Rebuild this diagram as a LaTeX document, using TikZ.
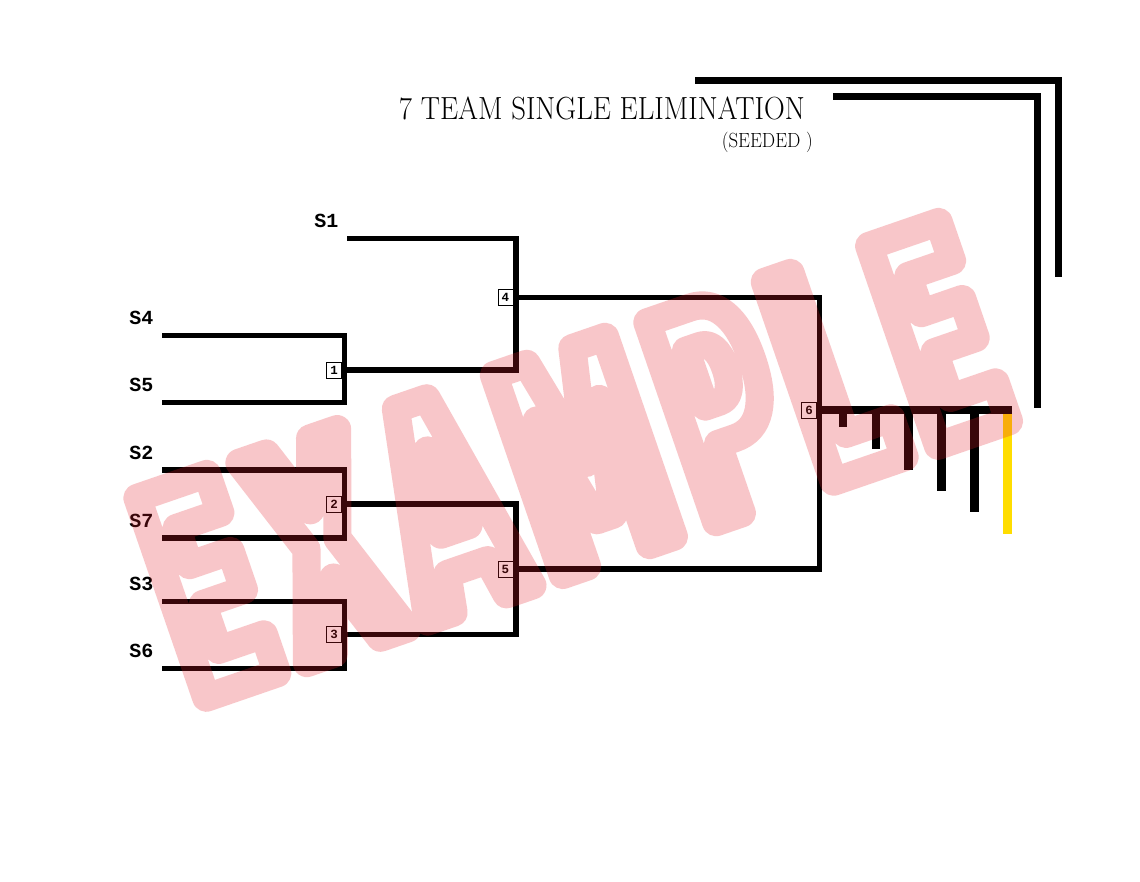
\documentclass[tikz,border=0pt]{standalone}
\usepackage{fontspec}
\usepackage{graphicx}
\usetikzlibrary{positioning}

\newfontfamily\seedfont{Liberation Mono}
\newfontfamily\stampfont{DejaVu Sans}[FakeStretch=0.5]

\definecolor{stampred}{RGB}{230,30,40}
\definecolor{finalgold}{RGB}{255,221,0}

\tikzset{
  bracket/.style={line width=5.5pt, line join=miter},
  frame/.style={line width=7pt, line join=miter},
  seed/.style={font=\seedfont\bfseries\fontsize{20}{20}\selectfont, inner sep=0pt},
  matchbox/.style={draw, line width=0.8pt, fill=white, minimum width=15pt,
    minimum height=16pt, inner sep=0pt,
    font=\seedfont\bfseries\fontsize{12.5}{12.5}\selectfont},
  bar/.style={line width=8.5pt},
}

\begin{document}
\begin{tikzpicture}[x=1pt, y=-1pt]
    \fill[white] (0,0) rectangle (1140,881);
    \useasboundingbox (0,0) rectangle (1140,881);

    % title
    \node[anchor=base east, inner sep=0pt] (title) at (805,119)
      {\scalebox{0.9}[1]{\fontsize{32}{32}\selectfont 7 TEAM SINGLE ELIMINATION}};
    \node[anchor=base east, inner sep=0pt] (sub) at (813,147)
      {\scalebox{0.92}[1]{\fontsize{20.5}{20.5}\selectfont (SEEDED )}};

    % corner frame
    \coordinate (fa) at (695,80);
    \coordinate (fb) at (1058.3,276.7);
    \coordinate (fc) at (833.3,96);
    \coordinate (fd) at (1037.8,408);
    \draw [frame] (fa) -| (fb);
    \draw [frame] (fc) -| (fd);

    % seed lines start here
    \coordinate (t1) at (347,238.7);
    \coordinate (t4) at (162,335.3);
    \coordinate (t5) at (162,402.5);
    \coordinate (t2) at (162,470);
    \coordinate (t7) at (162,538);
    \coordinate (t3) at (162,601.5);
    \coordinate (t6) at (162,668.5);

    % match points
    \coordinate (j1) at (344.7,370);
    \coordinate (j2) at (344.7,504);
    \coordinate (j3) at (344.7,634.5);
    \coordinate (j4) at (516,297.5);
    \coordinate (j5) at (516,569);
    \coordinate (j6) at (819.7,410);
    \coordinate (fin) at (1012,410);

    \draw [bracket] (t4) -| (j1) |- (t5);
    \draw [bracket] (t2) -| (j2) |- (t7);
    \draw [bracket] (t3) -| (j3) |- (t6);
    \draw [bracket] (t1) -| (j4) |- (j1);
    \draw [bracket] (j2) -| (j5) |- (j3);
    \draw [bracket] (j4) -| (j6) |- (j5);

    % champion line with bars
    \foreach \bx/\by in {843/427, 876/449, 908.5/470, 941.5/491, 974.5/512}
      \draw [bar] (\bx,410) -- (\bx,\by);
    \draw [bar, line width=9pt, finalgold] (1007.5,413) -- (1007.5,534);
    \draw [line width=8pt] (j6) -- (fin);

    % seeds
    \foreach \s in {1,4,5,2,7,3,6}
      \node [seed, above left=10.5pt and 8.5pt of t\s] (s\s) {S\s};

    % match numbers
    \foreach \m in {1,...,6}
      \node [matchbox, left=2.7pt of j\m] (m\m) {\m};

    % watermark
    \begin{scope}[transparency group, opacity=0.25]
      \node [inner sep=0pt, rotate=19] (stamp) at (572,460)
        {\stampfont\bfseries\fontsize{290}{290}\selectfont
         \special{pdf:literal direct 1 Tr 28 w 1 j 1 J 0.9 0.12 0.16 RG}%
         E\kern18pt X\kern18pt A\kern18pt M\kern18pt P\kern18pt L\kern18pt E%
         \special{pdf:literal direct 0 Tr}};
    \end{scope}

\end{tikzpicture}
\end{document}
